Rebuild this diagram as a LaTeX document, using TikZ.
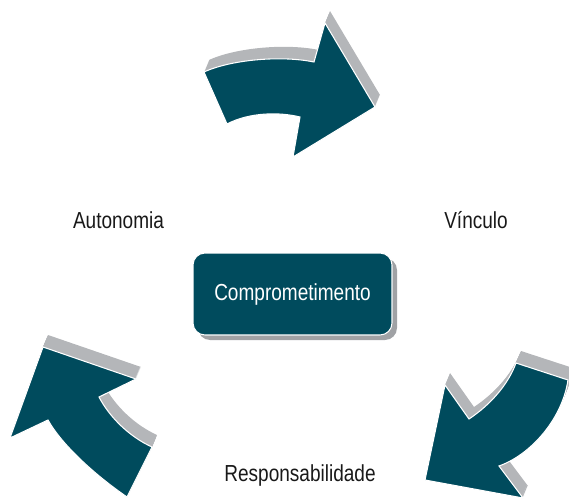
\documentclass[tikz,border=0pt]{standalone}
\usepackage{fontspec}
\setmainfont[FakeStretch=0.82]{Liberation Sans}
\usetikzlibrary{shadows}
\definecolor{teal}{RGB}{0,75,93}
\definecolor{sidegray}{RGB}{180,182,185}
\definecolor{shadowgray}{RGB}{160,162,165}

% arrow outlines, in pixel units (y grows downwards)
\newcommand{\toparrow}[1]{%
  \path[#1] (204,72) .. controls (230,60) and (280,55) .. (314,62)
    -- (325,23) -- (375,107) -- (293,157) -- (300,117)
    .. controls (280,112) and (250,112) .. (227,124) -- cycle;}
\newcommand{\leftarrowshape}[1]{%
  \path[#1] (43,347) -- (136,379) -- (99,397)
    .. controls (110,418) and (130,437) .. (152,447)
    -- (127,497) .. controls (95,475) and (62,445) .. (48,420)
    -- (10,438) -- cycle;}
\newcommand{\rightarrowshape}[1]{%
  \path[#1] (516,363) -- (568,380)
    .. controls (562,420) and (530,455) .. (499,466)
    -- (523,498) -- (425,480) -- (445,385) -- (469,419)
    .. controls (490,405) and (508,385) .. (516,363) -- cycle;}

\tikzset{
  face/.style={fill=teal, draw=white, line width=0.8pt, line join=miter},
  side/.style={fill=sidegray},
  label/.style={anchor=base, text=black!90, font=\fontsize{17.4pt}{21pt}\selectfont},
  centerbox/.style={fill=teal, draw=white, line width=0.8pt, rounded corners=9pt,
    minimum width=149.25pt, minimum height=61.5pt, text=white,
    font=\fontsize{17.4pt}{21pt}\selectfont,
    drop shadow={shadow xshift=3.75pt, shadow yshift=-3.75pt, fill=shadowgray, opacity=1}},
}

\begin{document}
\begin{tikzpicture}[x=0.75pt, y=-0.75pt]
  \useasboundingbox (0,0) rectangle (569,500);

  % extruded sides: the outline swept along the depth direction
  \foreach \k in {12,11,...,1}{
    \begin{scope}[shift={(\k*5/12,-\k)}]
      \toparrow{side}
      \leftarrowshape{side}
      \rightarrowshape{side}
    \end{scope}
  }
  % front faces
  \toparrow{face}
  \leftarrowshape{face}
  \rightarrowshape{face}

  % centre box
  \node[centerbox] (centre) at (292.5,294) {Comprometimento};

  % labels
  \node[label] (autonomia) at (118.5,228) {Autonomia};
  \node[label] (vinculo) at (476,228) {Vínculo};
  \node[label] (resp) at (300,481.5) {Responsabilidade};
\end{tikzpicture}
\end{document}
